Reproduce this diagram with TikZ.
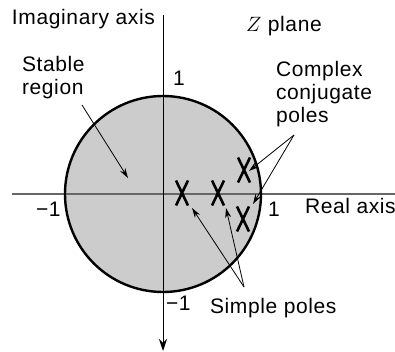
\documentclass[tikz,border=0pt]{standalone}
\usepackage{fontspec}
\setmainfont{Liberation Sans}[LetterSpace=3]
\usetikzlibrary{arrows.meta}
\begin{document}
\begin{tikzpicture}[x=1pt,y=-1pt,
  lbl/.style={inner sep=0pt,outer sep=0pt,font=\fontsize{21}{23}\selectfont,anchor=base west},
  ptr/.style={line width=0.8pt,-{Stealth[length=10pt,width=6pt]}},
  polemark/.style={line width=2.6pt}]
\useasboundingbox (0,0) rectangle (395,352);
% region
\coordinate (O) at (163,194);
\fill[black!20] (O) circle[radius=98];
% axes
\coordinate (xl) at (12,194);
\coordinate (xr) at (395,194);
\coordinate (yt) at (163,15);
\coordinate (yb) at (163,351);
\draw[black!60,line width=1.4pt] (xl) -- (xr);
\draw[line width=1pt,-{Stealth[length=12pt,width=8pt]}] (yt) -- (yb);
\draw[line width=2.4pt] (O) circle[radius=98];
% poles
\foreach \n/\px/\py in {p1/182/193, p2/218/193, c1/244/170, c2/243/219}{
  \coordinate (\n) at (\px,\py);
  \draw[polemark] ([shift={(-6,-12.5)}]\n) -- ([shift={(6,12.5)}]\n)
                  ([shift={(6,-12.5)}]\n) -- ([shift={(-6,12.5)}]\n);
}
% labels
\node[lbl] (imag) at (12,25) {Imaginary axis};
\node[lbl] (one) at (173,86) {1};
\node[lbl] (zpl) at (246,32) {$Z$ plane};
\node[lbl,align=left,anchor=north west] (stab) at (22,56) {Stable\\region};
\node[lbl,align=left,anchor=north west] (cc) at (276,61) {Complex\\conjugate\\poles};
\node[lbl] (m1) at (36,216) {−1};
\node[lbl] (p1l) at (268,216) {1};
\node[lbl] (real) at (305,213) {Real axis};
\node[lbl] (m1b) at (166,310) {−1};
\node[lbl] (sp) at (210,313) {Simple poles};
% pointers
\coordinate (sa) at (82,105);
\coordinate (st) at (128,178);
\coordinate (ca) at (294,135);
\coordinate (ct1) at (249,171);
\coordinate (ct2) at (253,204);
\coordinate (sa2) at (244,287);
\coordinate (pt1) at (192,208);
\coordinate (pt2) at (226,208);
\draw[ptr] (sa) -- (st);
\draw[ptr] (ca) -- (ct1);
\draw[ptr] (ca) -- (ct2);
\draw[ptr] (sa2) -- (pt1);
\draw[ptr] (sa2) -- (pt2);
\end{tikzpicture}
\end{document}
